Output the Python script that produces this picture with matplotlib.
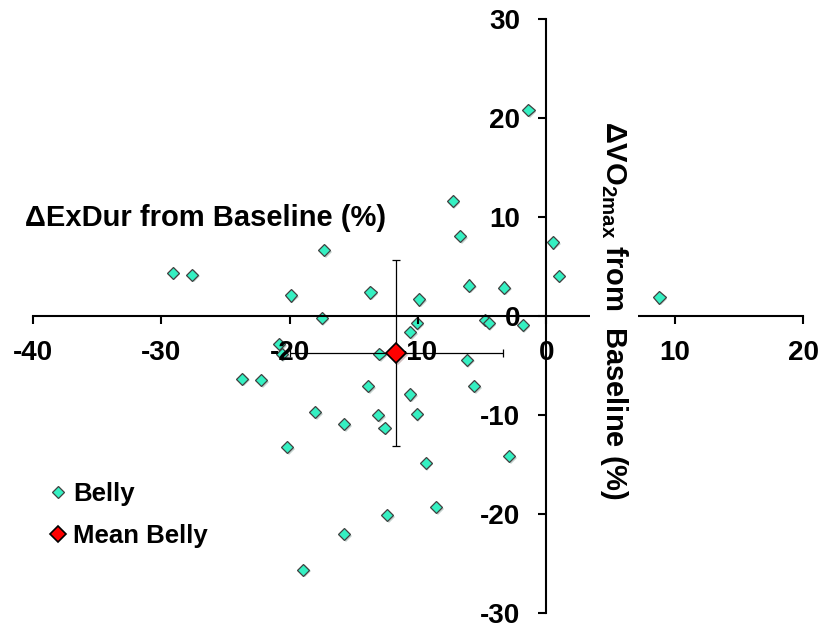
import numpy as np
import matplotlib as mpl
mpl.use('Agg')
from matplotlib import pyplot as plt
from matplotlib.lines import Line2D
import matplotlib.patheffects as pe

# estilo
plt.rcParams['font.family'] = 'Liberation Sans'
plt.rcParams['font.weight'] = 'bold'
plt.rcParams['axes.unicode_minus'] = False
plt.rcParams['mathtext.fontset'] = 'custom'
plt.rcParams['mathtext.rm'] = 'Liberation Sans:bold'
plt.rcParams['mathtext.it'] = 'Liberation Sans:bold'
plt.rcParams['mathtext.bf'] = 'Liberation Sans:bold'

# datos (% cambio respecto a la linea base)
belly_exdur = [-29.1, -27.6, -17.3, -19.9, -13.7, -17.5, -20.8, -20.6, -10.6, -10.1,
               -9.9, -13.0, -23.7, -22.2, -13.9, -10.6, -7.3, -6.7, 0.5, 0.95,
               -6.0, -3.3, 8.8, -4.8, -4.5, -1.85, -6.2, -5.65, -1.4, -18.0,
               -13.1, -10.1, -15.75, -12.6, -20.2, -9.4, -2.9, -8.6, -12.4, -15.75,
               -18.95]
belly_vo2 = [4.4, 4.2, 6.7, 2.1, 2.4, -0.2, -2.8, -3.8, -1.6, -0.7,
             1.7, -3.8, -6.3, -6.45, -7.05, -7.9, 11.6, 8.1, 7.45, 4.1,
             3.1, 2.9, 1.9, -0.35, -0.7, -0.9, -4.4, -7.05, 20.8, -9.7,
             -10.0, -9.85, -10.9, -11.25, -13.2, -14.8, -14.15, -19.25, -20.1, -22.0,
             -25.6]

mean_exdur = -11.7
mean_vo2 = -3.7
err_exdur = 8.3
err_vo2 = 9.4

xticks = [-40, -30, -20, -10, 0, 10, 20]
yticks = [-30, -20, -10, 0, 10, 20, 30]

turq = '#35F0C2'
sombra = [pe.SimplePatchShadow(offset=(1.2, -1.2), alpha=0.25), pe.Normal()]

fig = plt.figure(figsize=(8.27, 6.30), dpi=100)
ax = fig.add_axes([0.0395, 0.0265, 0.9318, 0.943])

ax.plot(belly_exdur, belly_vo2, 'D', ms=6.2, mfc=turq, mec='#404040', mew=0.9,
        zorder=1, path_effects=sombra)
ax.errorbar(mean_exdur, mean_vo2, xerr=err_exdur, yerr=err_vo2, fmt='none',
            ecolor='black', elinewidth=0.9, capsize=2.6, capthick=0.9, zorder=2)
ax.plot(mean_exdur, mean_vo2, 'D', ms=10.5, mfc='red', mec='black', mew=1.2, zorder=4,
        path_effects=sombra)

ax.set_xlim(-40, 20)
ax.set_ylim(-30, 30)
ax.set_xticks(xticks)
ax.set_yticks(yticks)
ax.spines['left'].set_position(('data', 0))
ax.spines['bottom'].set_position(('data', 0))
ax.spines['top'].set_visible(False)
ax.spines['right'].set_visible(False)
ax.spines['left'].set_linewidth(1.5)
ax.spines['bottom'].set_linewidth(1.5)
ax.tick_params(axis='both', direction='out', length=6, width=1.5, labelsize=20)
ax.tick_params(axis='x', pad=11)
ax.tick_params(axis='y', pad=13)
ax.patch.set_visible(False)

fig.text(206/827, 1 - 218/630, '\u0394ExDur from Baseline (%)', fontsize=21,
         fontweight='bold', ha='center', va='center')

ax.text(614/827, 1 - 310/630, '\u0394VO$_{\\mathbf{2max}}$ from  Baseline (%)',
        transform=fig.transFigure, fontsize=21, fontweight='bold', rotation=270,
        ha='center', va='center',
        bbox=dict(facecolor='white', edgecolor='none', pad=6), zorder=5)

handles = [Line2D([], [], ls='none', marker='D', ms=6.5, mfc=turq, mec='#404040', mew=0.9),
           Line2D([], [], ls='none', marker='D', ms=8.5, mfc='red', mec='black', mew=1.2)]
ax.legend(handles, ['Belly', 'Mean Belly'], loc='center left',
          bbox_to_anchor=(40/827, 1 - 515/630), bbox_transform=fig.transFigure,
          frameon=False, fontsize=18.5, handlelength=0.6, handletextpad=0.3,
          labelspacing=0.72, borderaxespad=0)

fig.savefig('out.png', dpi=100)
